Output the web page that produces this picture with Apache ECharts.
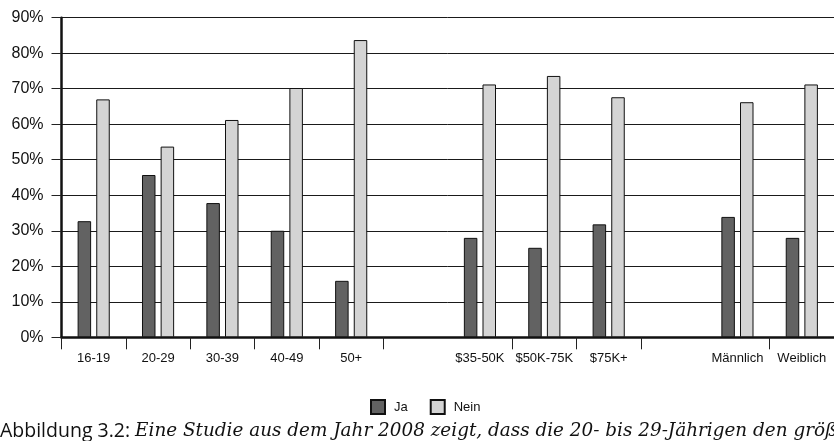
<!DOCTYPE html>
<html>
<head>
<meta charset="utf-8">
<script src="https://cdn.jsdelivr.net/npm/echarts@6/dist/echarts.min.js"></script>
<style>
  html, body { margin: 0; padding: 0; background: #fff; }
  #chart { width: 834px; height: 441px; }
</style>
</head>
<body>
<div id="chart"></div>
<script>
// Category groups: age, income, gender (blank slots separate the groups)
const categories = ['16-19', '20-29', '30-39', '40-49', '50+', ' ', '$35-50K', '$50K-75K', '$75K+', '  ', 'Männlich', 'Weiblich'];
const jaValues   = [32.7, 45.7, 37.8, 30.0, 15.9, null, 28.0, 25.2, 31.8, null, 33.9, 28.0];
const neinValues = [67.0, 53.7, 61.2, 70.2, 83.7, null, 71.2, 73.6, 67.6, null, 66.2, 71.2];
const seriesNames = ['Ja', 'Nein'];
const yTicks = { min: 0, max: 90, step: 10 };
// Boundaries where no tick mark is drawn (start of a new group)
const hiddenTicks = [6, 10];

const captionLead = 'Abbildung 3.2:';
const captionText = 'Eine Studie aus dem Jahr 2008 zeigt, dass die 20- bis 29-Jährigen den größ';

const chart = echarts.init(document.getElementById('chart'), null, { renderer: 'canvas' });

const sansFont = '"Liberation Sans", Arial, Helvetica, sans-serif';

chart.setOption({
  animation: false,
  backgroundColor: '#ffffff',
  title: {
    left: 0,
    top: 421,
    padding: 0,
    text: '{a|' + captionLead + '} {b|' + captionText + '}',
    textStyle: {
      rich: {
        a: { fontFamily: '"Open Sans", "Noto Sans", sans-serif', fontSize: 19.5, color: '#111', fontWeight: 'normal' },
        b: { fontFamily: '"DejaVu Serif", serif', fontStyle: 'italic', fontSize: 18.4, color: '#111', fontWeight: 'normal' }
      }
    }
  },
  legend: {
    left: 370,
    top: 399,
    padding: 0,
    itemWidth: 14,
    itemHeight: 14,
    itemGap: 22,
    icon: 'rect',
    textStyle: { fontFamily: sansFont, fontSize: 13, color: '#111', padding: [0, 0, 0, 4] },
    data: seriesNames
  },
  grid: {
    left: 61.5,
    top: 17.7,
    width: 774.4,
    bottom: 103.7,
    containLabel: false
  },
  xAxis: {
    type: 'category',
    data: categories,
    boundaryGap: true,
    axisLine: { lineStyle: { color: '#111', width: 2.5 } },
    axisTick: {
      show: true,
      length: 12,
      lineStyle: { color: '#222', width: 1 },
      interval: function (idx) { return hiddenTicks.indexOf(idx) === -1; }
    },
    axisLabel: {
      interval: 0,
      margin: 15,
      fontFamily: sansFont,
      fontSize: 13,
      color: '#111'
    },
    splitLine: { show: false }
  },
  yAxis: {
    type: 'value',
    min: yTicks.min,
    max: yTicks.max,
    interval: yTicks.step,
    axisLine: { show: true, lineStyle: { color: '#111', width: 2.5 } },
    axisTick: { show: true, length: 10, lineStyle: { color: '#222', width: 1 } },
    axisLabel: {
      formatter: '{value}%',
      margin: 18,
      fontFamily: sansFont,
      fontSize: 16,
      color: '#111'
    },
    splitLine: { show: true, lineStyle: { color: '#1a1a1a', width: 1 } }
  },
  series: [
    {
      name: seriesNames[0],
      type: 'bar',
      data: jaValues,
      barWidth: 13.5,
      barGap: '38%',
      itemStyle: { color: '#626262', borderColor: '#111', borderWidth: 1 }
    },
    {
      name: seriesNames[1],
      type: 'bar',
      data: neinValues,
      barWidth: 13.5,
      itemStyle: { color: '#d4d4d4', borderColor: '#111', borderWidth: 1 }
    }
  ]
});
</script>
</body>
</html>
